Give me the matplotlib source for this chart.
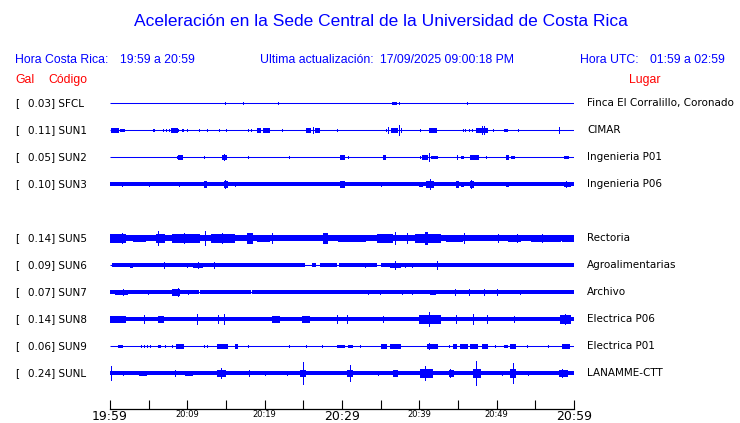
import matplotlib
import matplotlib.transforms as mtransforms

matplotlib.use("Agg")

import matplotlib.pyplot as plt

BLUE = "#0000ff"
RED = "#ff0000"
HEAD_FONT = "Liberation Sans"
LABEL_FONT = "DejaVu Sans"

codes = ["SFCL", "SUN1", "SUN2", "SUN3", "SUN5", "SUN6", "SUN7", "SUN8", "SUN9", "SUNL"]
peak_gal = [0.03, 0.11, 0.05, 0.10, 0.14, 0.09, 0.07, 0.14, 0.06, 0.24]
places = ["Finca El Corralillo, Coronado", "CIMAR", "Ingenieria P01", "Ingenieria P06",
          "Rectoria", "Agroalimentarias", "Archivo", "Electrica P06", "Electrica P01",
          "LANAMME-CTT"]
slots = [0, 1, 2, 3, 5, 6, 7, 8, 9, 10]  # slot 4 (SUN4) is empty
noise_floor = [0.5, 0.5, 0.5, 1.6, 3.0, 1.7, 1.7, 2.3, 0.5, 1.7]

# bursts per station: (start minute, end minute, half amplitude)
sfcl_bursts = [(14.9, 14.9, 1), (17.2, 17.2, 1.5), (21.7, 21.7, 1.5), (36.5, 37.0, 1.5),
               (37.4, 37.4, 1), (46.2, 46.2, 1)]
sun1_bursts = [(0.1, 1.0, 2), (0.9, 0.9, 2.5), (1.3, 1.7, 1.5), (1.85, 1.85, 1), (5.5, 5.5, 1),
               (5.7, 5.7, 1), (6.8, 6.8, 1.5), (7.3, 7.3, 1), (7.6, 7.6, 1), (7.9, 8.6, 2),
               (8.8, 8.8, 1), (9.3, 9.3, 1), (9.5, 9.5, 1), (9.9, 9.9, 1), (11.5, 11.5, 1.5),
               (12.6, 12.6, 1.5), (14.1, 14.1, 1), (15.0, 15.0, 1), (17.8, 17.8, 1),
               (18.2, 18.2, 1), (19.0, 19.4, 2), (19.8, 20.5, 2), (22.2, 22.2, 1.5),
               (25.4, 25.8, 2), (26.2, 26.2, 3), (26.5, 27.0, 2.5), (29.4, 29.4, 1.5),
               (35.7, 35.7, 1), (36.0, 36.0, 3), (36.4, 37.1, 2), (37.4, 37.4, 5),
               (37.6, 37.6, 2), (40.1, 40.1, 1.5), (41.3, 42.2, 2), (45.6, 45.6, 1.5),
               (45.9, 45.9, 1.5), (46.4, 46.4, 1), (46.8, 46.8, 1), (47.3, 48.7, 2.5),
               (48.1, 48.1, 4), (48.4, 48.4, 4), (49.5, 49.5, 1), (50.9, 51.3, 1.5),
               (52.8, 52.8, 1), (58.1, 58.1, 3)]
sun2_bursts = [(8.6, 8.6, 1), (8.8, 9.3, 2), (12.2, 12.2, 1), (14.5, 15.0, 2), (14.8, 14.8, 3),
               (17.8, 17.8, 1), (23.2, 23.2, 1.5), (29.8, 30.2, 2), (30.8, 30.8, 1.5),
               (35.3, 35.6, 2), (40.1, 40.1, 1.5), (40.4, 41.0, 2), (41.3, 41.3, 4),
               (41.5, 42.3, 1.5), (44.9, 44.9, 2), (45.4, 45.6, 1.5), (46.6, 47.6, 2),
               (48.6, 48.6, 1), (51.2, 51.5, 2), (51.8, 52.2, 1.5), (58.7, 59.2, 1.5)]
sun3_bursts = [(1.5, 1.5, 2.5), (5.1, 5.1, 2.5), (8.9, 8.9, 2.5), (12.2, 12.4, 3),
               (14.7, 15.1, 3), (14.9, 14.9, 4), (16.2, 16.2, 2.5), (29.8, 30.2, 3),
               (35.1, 35.1, 2), (40.0, 40.4, 2.5), (40.9, 41.8, 3.5), (41.4, 41.4, 5),
               (44.8, 45.0, 3.5), (45.4, 45.6, 2.5), (46.5, 47.0, 3.5), (46.7, 46.7, 4.5),
               (51.2, 51.5, 2.5), (58.7, 59.5, 2.5), (59.0, 59.0, 3.5)]
sun5_bursts = [(0.0, 2.0, 4), (1.5, 1.5, 5.5), (3.0, 4.5, 3.5), (6.0, 7.0, 4), (6.2, 6.2, 7),
               (8.0, 11.5, 4), (9.6, 9.6, 5), (12.3, 12.3, 7), (13.0, 16.0, 4), (14.5, 14.5, 5),
               (17.7, 18.3, 5), (19.0, 20.5, 3.5), (20.9, 20.9, 5), (27.6, 28.0, 5),
               (29.5, 33.0, 3.5), (34.5, 36.5, 4), (36.9, 36.9, 6), (38.4, 38.4, 5),
               (39.5, 42.7, 4.5), (40.7, 41.0, 6), (43.5, 45.5, 3.5), (45.8, 45.8, 5),
               (50.2, 50.2, 4), (51.5, 53.0, 3.5), (52.6, 52.6, 4.5), (54.4, 58.2, 3.5),
               (55.8, 55.8, 4.5), (58.5, 60.0, 3.5)]
sun6_bursts = [(2.6, 2.8, 2.5), (7.0, 7.0, 3.5), (9.9, 9.9, 2.5), (10.7, 11.9, 2.5),
               (11.4, 11.4, 3.5), (13.4, 13.4, 3), (33.0, 33.0, 2.5), (36.2, 37.5, 2.5),
               (36.9, 36.9, 4.5), (38.2, 38.2, 2.5), (39.0, 39.0, 2.5), (42.3, 42.3, 4)]
sun7_bursts = [(0.6, 2.2, 2.5), (1.7, 1.7, 3.5), (4.9, 4.9, 2.5), (8.0, 8.9, 3),
               (8.8, 8.8, 4.5), (10.1, 10.1, 2.5), (33.4, 33.4, 2.5), (34.9, 34.9, 2.5),
               (37.7, 37.7, 2.5), (39.0, 39.0, 2.5), (41.4, 42.0, 2.5), (44.6, 44.6, 3),
               (46.4, 46.4, 3), (48.4, 48.4, 3.5), (50.0, 50.0, 3.5), (53.0, 53.0, 2)]
sun8_bursts = [(0.0, 1.9, 3.5), (4.4, 4.4, 4.5), (6.2, 6.9, 3.5), (11.2, 11.2, 5),
               (14.0, 14.0, 4.5), (14.7, 14.7, 5), (20.9, 21.8, 3), (24.8, 25.7, 3.5),
               (29.4, 29.4, 4.5), (30.6, 30.6, 4.5), (35.3, 35.3, 3.5), (39.9, 42.7, 4),
               (41.3, 41.3, 7), (44.8, 44.8, 4), (47.0, 47.0, 5), (48.7, 48.7, 4),
               (52.2, 52.2, 3.5), (58.2, 59.5, 4), (58.9, 58.9, 5.5)]
sun9_bursts = [(1.0, 1.5, 1.5), (4.0, 4.0, 1.5), (4.4, 4.4, 1.5), (4.8, 4.8, 1.5),
               (5.2, 5.2, 1.5), (6.2, 6.5, 1.5), (7.1, 7.1, 1), (8.0, 8.0, 1.5), (8.5, 9.5, 2),
               (12.2, 12.2, 1), (12.6, 12.6, 1), (13.8, 15.1, 2), (16.1, 16.4, 2),
               (17.8, 17.8, 1.5), (23.2, 23.2, 1), (25.4, 25.4, 1), (27.4, 27.4, 1),
               (29.3, 30.2, 1.5), (30.8, 31.3, 1.5), (32.3, 32.3, 1), (35.1, 35.7, 2),
               (36.2, 37.5, 2), (41.0, 42.3, 2.5), (41.3, 41.3, 3.5), (43.8, 43.8, 1),
               (44.4, 44.8, 2), (45.3, 46.1, 2), (46.6, 47.5, 2), (48.1, 48.7, 2),
               (49.8, 49.8, 1), (50.9, 51.3, 1.5), (51.7, 52.4, 2), (53.9, 53.9, 1),
               (56.6, 56.6, 1.5), (58.4, 59.3, 2)]
sunl_bursts = [(0.1, 0.1, 7), (1.7, 1.7, 2), (3.7, 4.7, 2.5), (8.4, 8.4, 3), (9.7, 10.6, 2.5),
               (13.8, 14.9, 3.5), (14.4, 14.4, 5), (18.0, 18.0, 3), (20.1, 20.1, 2.5),
               (22.9, 22.9, 2.5), (24.6, 25.2, 3), (24.9, 24.9, 11), (30.6, 31.3, 3),
               (31.0, 31.0, 8), (34.7, 34.7, 2.5), (36.6, 37.1, 3), (40.1, 41.6, 4),
               (40.7, 40.7, 7), (43.8, 44.4, 3.5), (44.0, 44.0, 4.5), (47.0, 47.9, 4),
               (47.3, 47.3, 12), (50.7, 50.7, 2.5), (51.7, 52.4, 4), (52.1, 52.1, 10),
               (54.1, 54.1, 2.5), (58.0, 59.1, 3), (58.4, 58.4, 4)]
bursts = [sfcl_bursts, sun1_bursts, sun2_bursts, sun3_bursts, sun5_bursts, sun6_bursts,
          sun7_bursts, sun8_bursts, sun9_bursts, sunl_bursts]

# stretches where a thick trace drops back to a thin line
sun6_quiet = [(0.0, 0.2), (25.2, 26.1), (26.6, 27.2), (29.4, 29.6), (34.5, 35.1)]
sun7_quiet = [(11.5, 11.7), (18.2, 18.4)]
quiet = [[], [], [], [], [], sun6_quiet, sun7_quiet, [], [], []]

tick_minutes = list(range(0, 61, 5))
tick_labels = ["19:59", "", "20:09", "", "20:19", "", "20:29", "", "20:39", "", "20:49", "", "20:59"]
big_ticks = ["19:59", "20:29", "20:59"]

ROW_PX = 27.0
W, H = 740, 423

fig = plt.figure(figsize=(W / 100, H / 100), dpi=100)
ax = fig.add_axes([110 / W, (H - 409) / H, 464 / W, 333 / H])
ax.set_xlim(0, 60)
ax.set_ylim((409 - 103) / ROW_PX, -1)

for i, slot in enumerate(slots):
    ax.hlines(slot, 0, 60, color=BLUE, linewidth=0.75)
    floor = noise_floor[i] / ROW_PX
    if noise_floor[i] > 0.5:
        edges = [0.0]
        for a, b in quiet[i]:
            edges += [a, b]
        edges.append(60.0)
        for a, b in zip(edges[::2], edges[1::2]):
            if b > a:
                ax.fill_between([a, b], slot - floor, slot + floor, color=BLUE,
                                linewidth=0, antialiased=False)
    for a, b, amp in bursts[i]:
        # the edge line adds about a third of a pixel on each side
        h = max(amp - 0.35, 0.5) / ROW_PX
        ax.bar((a + b) / 2, 2 * h, width=b - a, bottom=slot - h, color=BLUE,
               edgecolor=BLUE, linewidth=0.5, antialiased=False)

for side in ["top", "left", "right"]:
    ax.spines[side].set_visible(False)
ax.spines["bottom"].set_linewidth(0.9)
ax.set_yticks([])
ax.set_xticks(tick_minutes)
ax.set_xticklabels(tick_labels)
ax.tick_params(axis="x", direction="in", length=6.5, width=0.8, pad=0.5, color="black")
for lab in ax.get_xticklabels():
    big = lab.get_text() in big_ticks
    lab.set_fontsize(9 if big else 6)
    lab.set_fontfamily(LABEL_FONT)

# header
fig.text(381 / W, 1 - 22 / H, "Aceleración en la Sede Central de la Universidad de Costa Rica",
         color=BLUE, fontsize=12.5, family=HEAD_FONT, ha="center", va="center")
head_y = 1 - 60 / H
fig.text(15 / W, head_y, "Hora Costa Rica:", color=BLUE, fontsize=8.8, family=HEAD_FONT, va="center")
fig.text(120 / W, head_y, "19:59 a 20:59", color=BLUE, fontsize=8.8, family=HEAD_FONT, va="center")
fig.text(260 / W, head_y, "Ultima actualización:", color=BLUE, fontsize=8.8, family=HEAD_FONT, va="center")
fig.text(380 / W, head_y, "17/09/2025 09:00:18 PM", color=BLUE, fontsize=8.8, family=HEAD_FONT, va="center")
fig.text(580 / W, head_y, "Hora UTC:", color=BLUE, fontsize=8.8, family=HEAD_FONT, va="center")
fig.text(650 / W, head_y, "01:59 a 02:59", color=BLUE, fontsize=8.8, family=HEAD_FONT, va="center")
red_y = 1 - 80 / H
fig.text(15 / W, red_y, "Gal", color=RED, fontsize=8.8, family=HEAD_FONT, va="center")
fig.text(48 / W, red_y, "Código", color=RED, fontsize=8.8, family=HEAD_FONT, va="center")
fig.text(629 / W, red_y, "Lugar", color=RED, fontsize=8.8, family=HEAD_FONT, va="center")

# station labels, tied to the trace rows
trans = mtransforms.blended_transform_factory(fig.transFigure, ax.transData)
for i, slot in enumerate(slots):
    ax.text(15 / W, slot, "[", transform=trans, fontsize=7.5, family=LABEL_FONT, va="center")
    ax.text(28 / W, slot, f"{peak_gal[i]:.2f}] {codes[i]}", transform=trans, fontsize=7.5,
            family=LABEL_FONT, va="center")
    ax.text(587 / W, slot, places[i], transform=trans, fontsize=7.5, family=LABEL_FONT,
            va="center")

fig.savefig("out.png", dpi=100)
plt.close(fig)
